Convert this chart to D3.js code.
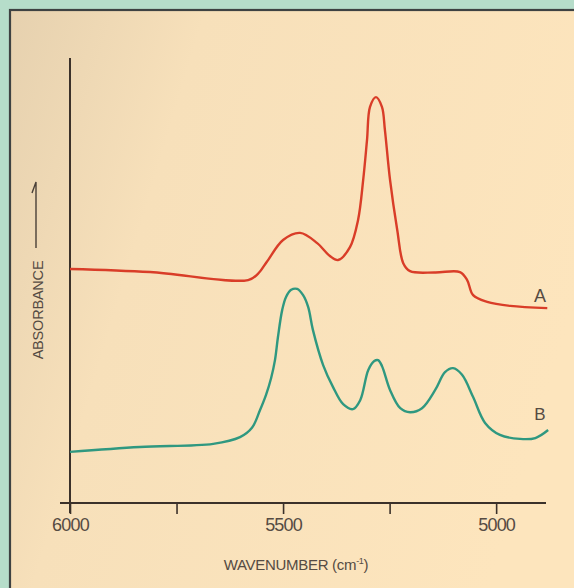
<!DOCTYPE html>
<html><head><meta charset="utf-8">
<script src="https://cdn.jsdelivr.net/npm/d3@7"></script>
<style>html,body{margin:0;padding:0;background:#b6ddca;}svg{display:block;}</style>
</head><body>
<svg id="c" width="574" height="588"></svg>
<script>
// Wavenumber (cm-1) and absorbance (arbitrary units)
const curveA_wn  = [6000,5812,5582,5559,5538,5500,5460,5420,5390,5371,5343,5324,5312,5303,5296,5282,5268,5261,5249,5232,5218,5202,5143,5085,5068,5054,5021,4967,4880];
const curveA_abs = [52.6,51.9,50.1,51.5,54.2,59.1,60.7,58.4,55.5,54.6,57.5,63.6,72.6,81.6,89.0,91.2,89.0,83.8,72.6,61.3,53.9,52.1,51.8,51.9,50.1,46.7,45.2,44.3,43.8];
const curveB_wn  = [6000,5836,5664,5601,5573,5554,5540,5528,5519,5512,5502,5493,5481,5467,5453,5441,5430,5406,5383,5359,5336,5319,5300,5286,5277,5268,5249,5225,5202,5174,5143,5120,5101,5080,5054,5026,4991,4944,4908,4878];
const curveB_abs = [11.5,12.6,13.3,14.8,16.9,20.9,24.3,28.1,32.1,37.3,43.4,46.3,47.9,48.1,46.7,44.0,38.9,31.0,26.1,22.2,21.1,23.1,29.9,31.9,32.1,30.8,25.4,21.3,20.4,21.3,25.4,29.4,30.3,28.8,23.8,18.0,15.3,14.4,14.6,16.4];
const tickValues = [6000,5750,5500,5250,5000];
const tickLabels = ["6000","","5500","","5000"];
const seriesLabels = ["A","B"];
const xTitle = "WAVENUMBER (cm";
const yTitle = "ABSORBANCE";

const svg = d3.select("#c");
const defs = svg.append("defs");
const grad = defs.append("linearGradient").attr("id","bg").attr("x1","0").attr("x2","1").attr("y1","0").attr("y2","0.3");
grad.append("stop").attr("offset","0").attr("stop-color","#e6d1af");
grad.append("stop").attr("offset","0.3").attr("stop-color","#f7e0ba");
grad.append("stop").attr("offset","1").attr("stop-color","#fde5bd");

svg.append("rect").attr("x",10).attr("y",10).attr("width",600).attr("height",600)
  .attr("fill","url(#bg)").attr("stroke","#3e4242").attr("stroke-width",2.2);

const x = d3.scaleLinear().domain([6000,4883]).range([70,546]);
const y = d3.scaleLinear().domain([0,100]).range([503,58]);
const axisColor = "#3b312a";
const textColor = "#554b43";
const font = "'Liberation Sans', Arial, Helvetica, sans-serif";

// x axis
const gx = svg.append("g").attr("transform",`translate(0,${y(0)})`)
  .call(d3.axisBottom(x).tickValues(tickValues).tickSize(11).tickSizeOuter(0)
    .tickFormat((d,i)=>tickLabels[i]));
gx.select(".domain").remove();
gx.selectAll(".tick line").attr("stroke",axisColor).attr("stroke-width",1.6);
gx.selectAll(".tick text").attr("fill",textColor).attr("font-family",font)
  .attr("font-size",18).attr("letter-spacing","-0.8").attr("y",15).attr("dy","0.71em");
svg.append("line").attr("x1",x(6000)-10).attr("x2",x.range()[1]).attr("y1",y(0)).attr("y2",y(0))
  .attr("stroke",axisColor).attr("stroke-width",2);
// y axis
svg.append("line").attr("x1",x(6000)).attr("x2",x(6000)).attr("y1",y(100)).attr("y2",y(0)+10)
  .attr("stroke",axisColor).attr("stroke-width",2);

// titles
const xt = svg.append("text").attr("x",296).attr("y",570).attr("text-anchor","middle")
  .attr("fill",textColor).attr("font-family",font).attr("font-size",15).attr("letter-spacing","-0.3");
xt.append("tspan").text(xTitle);
xt.append("tspan").attr("font-size",9).attr("dy",-6).text("-1");
xt.append("tspan").attr("dy",6).text(")");

svg.append("text").attr("transform","translate(43,310) rotate(-90)").attr("text-anchor","middle")
  .attr("fill",textColor).attr("font-family",font).attr("font-size",14.5).attr("letter-spacing","-0.2").text(yTitle);
// arrow
svg.append("path").attr("d","M36,248 L36,182 L32,193").attr("fill","none")
  .attr("stroke","#4a4038").attr("stroke-width",1.4);

// curves
const line = d3.line().x(d=>x(d[0])).y(d=>y(d[1])).curve(d3.curveCatmullRom.alpha(0.5));
const dA = curveA_wn.map((w,i)=>[w,curveA_abs[i]]);
const dB = curveB_wn.map((w,i)=>[w,curveB_abs[i]]);
svg.append("path").datum(dA).attr("d",line).attr("fill","none").attr("stroke","#d93d28").attr("stroke-width",2.4);
svg.append("path").datum(dB).attr("d",line).attr("fill","none").attr("stroke","#2f9880").attr("stroke-width",2.4);

svg.append("text").attr("x",540).attr("y",302).attr("text-anchor","middle").attr("fill",textColor)
  .attr("font-family",font).attr("font-size",18).text(seriesLabels[0]);
svg.append("text").attr("x",540).attr("y",420).attr("text-anchor","middle").attr("fill",textColor)
  .attr("font-family",font).attr("font-size",17).text(seriesLabels[1]);
</script>
</body></html>
